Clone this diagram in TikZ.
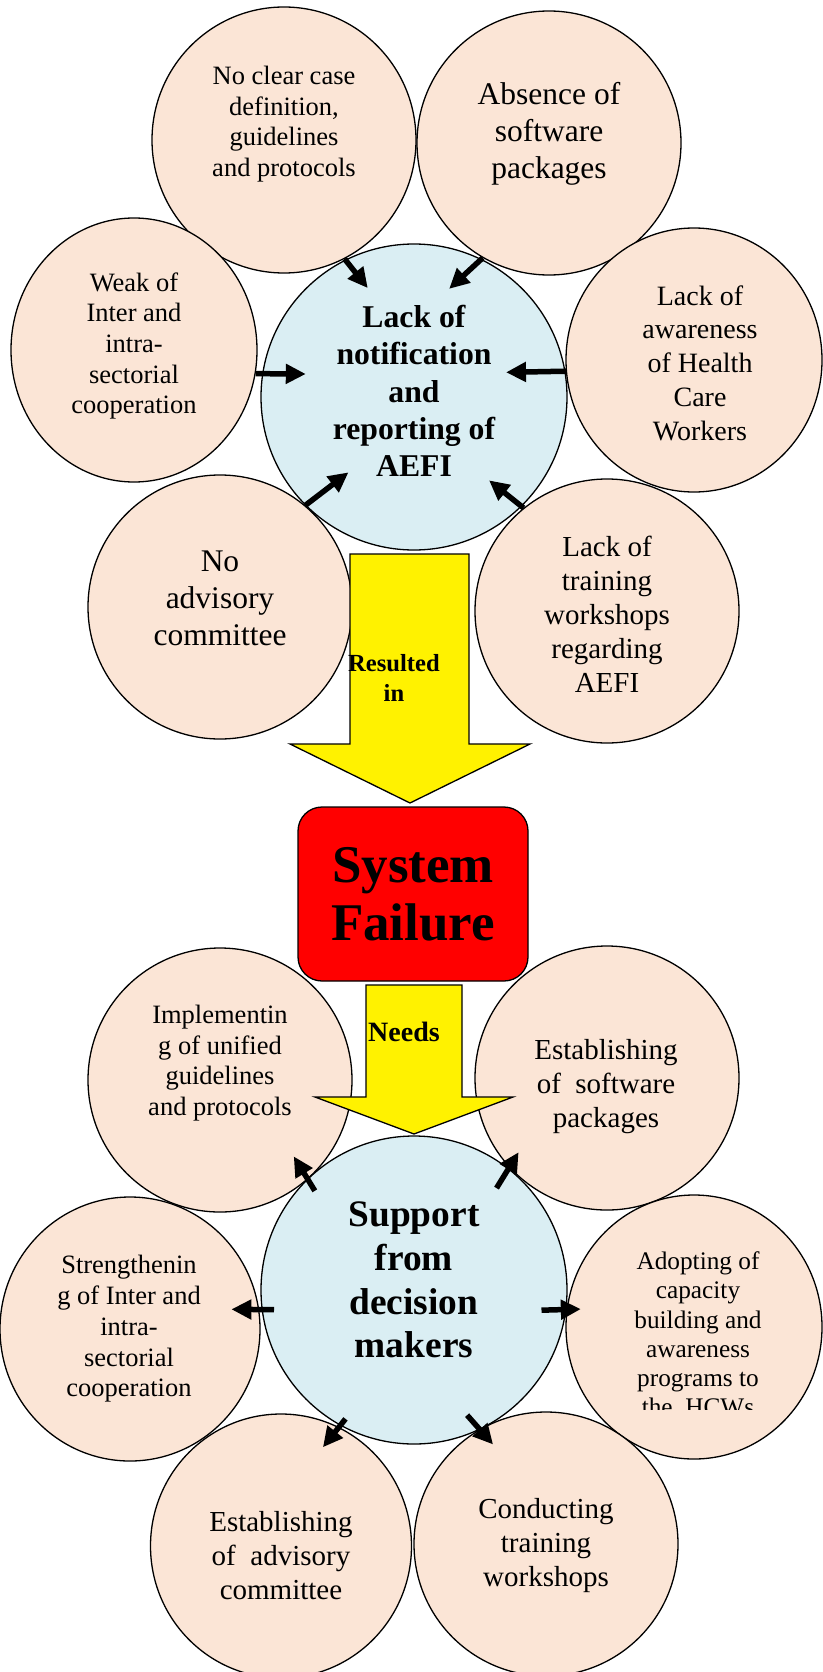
\documentclass[tikz,border=0pt]{standalone}
\usepackage{fontspec}
\setmainfont{Liberation Serif}
\usetikzlibrary{shapes.geometric,arrows.meta,calc}
\definecolor{peach}{RGB}{251,229,214}
\definecolor{paleblue}{RGB}{218,238,243}
\tikzset{
  cause/.style={ellipse,draw,line width=1.3pt,fill=peach,inner sep=0pt,minimum width=264pt,minimum height=264pt},
  core/.style={ellipse,draw,line width=1.3pt,fill=paleblue,inner sep=0pt,minimum width=306pt,minimum height=306pt},
  txtS/.style={align=center,inner sep=0pt,font=\fontsize{26.5}{30.7}\selectfont},
  txtM/.style={align=center,inner sep=0pt,font=\fontsize{29}{34}\selectfont},
  txtL/.style={align=center,inner sep=0pt,font=\fontsize{31.5}{37}\selectfont},
  txtB/.style={align=center,inner sep=0pt,font=\bfseries\fontsize{31.7}{37.3}\selectfont},
  blk/.style={line width=5.5pt,-{Triangle[length=20pt,width=19pt]}},
  yarrow/.style={draw,line width=1.3pt,fill=yellow}
}
\begin{document}
\begin{tikzpicture}[x=1pt,y=-1pt]
\useasboundingbox (0,0) rectangle (822,1672);

% causes
\node[cause,minimum height=266pt] (noclear) at (284,140) {};
\node[cause] (absence) at (549,143) {};
\node[cause,minimum width=246pt] (weak) at (134,350) {};
\node[cause,minimum width=256pt] (aware) at (694,360) {};
\node[cause] (noadv) at (220,607) {};
\node[cause] (training) at (607,611) {};
\node[core] (lack) at (414,397) {};

\node[txtS] (noclear-t) at (284,124) {No clear case\\definition,\\guidelines\\and protocols};
\node[txtL] (absence-t) at (549,134) {Absence of\\software\\packages};
\node[txtS] (weak-t) at (134,346) {Weak of\\Inter and\\intra-\\sectorial\\cooperation};
\node[txtM,font=\fontsize{28}{33.8}\selectfont] (aware-t) at (700,363) {Lack of\\awareness\\of Health\\Care\\Workers};
\node[txtB] (lack-t) at (414,391) {Lack of\\notification\\and\\reporting of\\AEFI};
\node[txtL] (noadv-t) at (220,598) {No\\advisory\\committee};
\node[txtM] (training-t) at (607,614) {Lack of\\training\\workshops\\regarding\\AEFI};

\draw[blk] (noclear.-63) -- ($(lack)!0.77!(lack.113)$);
\draw[blk] (absence.-120) -- ($(lack)!0.74!(lack.72)$);
\draw[blk] (weak.-11) -- ($(lack)!0.72!(lack.168)$);
\draw[blk] (aware.185) -- ($(lack)!0.62!(lack.15)$);
\draw[blk] (noadv.50) -- ($(lack)!0.65!(lack.229)$);
\draw[blk] (training.129) -- ($(lack)!0.73!(lack.-48)$);

\draw[yarrow] (350,554) -- (469,554) -- (469,744) -- (530,744) -- (410,803) -- (290,744) -- (350,744) -- cycle;
\node[txtB,font=\bfseries\fontsize{24.6}{30}\selectfont] (resulted-t) at (394,678) {Resulted\\in};

\node[draw,line width=1.3pt,fill=red,rounded corners=24pt,minimum width=230pt,minimum height=174pt,
  align=center,font=\bfseries\fontsize{53}{58}\selectfont] (failure) at (413,894) {System\\Failure};

% needs
\node[cause] (unified) at (220,1080) {};
\node[cause] (software) at (607,1078) {};
\node[cause,minimum width=260pt] (strength) at (130,1329) {};
\node[cause,minimum width=256pt] (capacity) at (694,1327) {};
\node[cause,minimum width=261pt] (advisory) at (281,1546) {};
\node[cause] (workshop) at (546,1544) {};
\node[core,minimum height=308pt] (support) at (414,1290) {};

\draw[yarrow] (366,985) -- (462,985) -- (462,1097) -- (513,1097) -- (414,1134) -- (315,1097) -- (366,1097) -- cycle;
\node[txtB,font=\bfseries\fontsize{28}{33}\selectfont] (needs-t) at (404,1032) {Needs};

\node[txtS] (unified-t) at (220,1063) {Implementin\\g of unified\\guidelines\\and protocols};
\node[txtM] (software-t) at (606,1087) {Establishing\\of~ software\\packages};
\node[txtB,font=\bfseries\fontsize{37.4}{43.8}\selectfont] (support-t) at (414,1280) {Support\\from\\decision\\makers};
\node[txtS] (strength-t) at (129,1329) {Strengthenin\\g of Inter and\\intra-\\sectorial\\cooperation};
\begin{scope}
\clip (560,1180) rectangle (822,1409);
\node[txtS,font=\fontsize{25.3}{29.2}\selectfont] (capacity-t) at (698,1334) {Adopting of\\capacity\\building and\\awareness\\programs to\\the~ HCWs};
\end{scope}
\node[txtM] (advisory-t) at (281,1556) {Establishing\\of~ advisory\\committee};
\node[txtM] (workshop-t) at (546,1546) {Conducting\\training\\workshops};

\draw[blk] ($(support)!0.91!(support.135)$) -- ($(unified)!0.8!(unified.-46)$);
\draw[blk] ($(support)!0.85!(support.51)$) -- ($(software)!0.87!(software.220)$);
\draw[blk] ($(support)!0.92!(support.188)$) -- ($(strength)!0.79!(strength.11)$);
\draw[blk] ($(support)!0.84!(support.-9)$) -- ($(capacity)!0.89!(capacity.171)$);
\draw[blk] ($(support)!0.945!(support.242)$) -- ($(advisory)!0.81!(advisory.67)$);
\draw[blk] ($(support)!0.88!(support.-67)$) -- ($(workshop)!0.85!(workshop.118)$);
\end{tikzpicture}
\end{document}
